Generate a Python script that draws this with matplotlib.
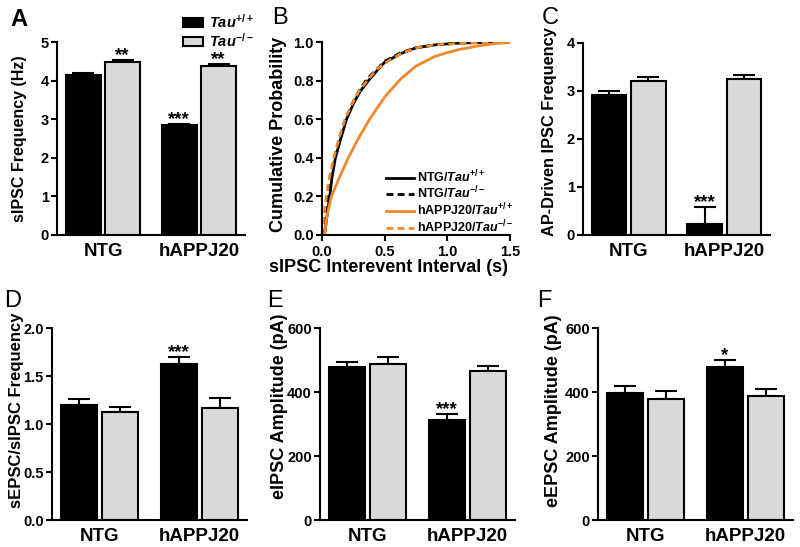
import matplotlib
matplotlib.use("Agg")
import matplotlib.pyplot as plt
from matplotlib.patches import Patch

plt.rcParams['font.family'] = ['Liberation Sans', 'DejaVu Sans']
plt.rcParams['font.weight'] = 'bold'
plt.rcParams['mathtext.fontset'] = 'custom'
plt.rcParams['mathtext.it'] = 'Liberation Sans:italic:bold'
plt.rcParams['mathtext.rm'] = 'Liberation Sans:bold'
plt.rcParams['mathtext.bf'] = 'Liberation Sans:bold'

# ---- data ----
groups = ["NTG", "hAPPJ20"]

# A: sIPSC frequency (Hz)
a_wt = [4.15, 2.84]
a_wt_err = [0.05, 0.04]
a_ko = [4.48, 4.37]
a_ko_err = [0.06, 0.07]
a_wt_star = ["", "***"]
a_ko_star = ["**", "**"]

# B: cumulative probability curves
b_ntg_wt_x = [0.02, 0.04, 0.062, 0.08, 0.107, 0.15, 0.196, 0.25, 0.30, 0.37, 0.45, 0.50, 0.63, 0.75, 0.90, 1.10, 1.30, 1.50]
b_ntg_wt_y = [0.0, 0.10, 0.20, 0.30, 0.40, 0.50, 0.60, 0.68, 0.74, 0.80, 0.86, 0.895, 0.94, 0.97, 0.985, 0.995, 0.998, 1.0]
b_ntg_ko_x = [0.01, 0.03, 0.05, 0.07, 0.10, 0.14, 0.19, 0.24, 0.30, 0.36, 0.44, 0.50, 0.63, 0.75, 0.90, 1.10, 1.30, 1.50]
b_ntg_ko_y = [0.0, 0.10, 0.20, 0.30, 0.40, 0.50, 0.60, 0.68, 0.75, 0.81, 0.86, 0.90, 0.945, 0.97, 0.985, 0.995, 0.998, 1.0]
b_app_wt_x = [0.02, 0.04, 0.075, 0.14, 0.21, 0.29, 0.38, 0.50, 0.63, 0.75, 0.90, 1.00, 1.10, 1.25, 1.40, 1.50]
b_app_wt_y = [0.0, 0.10, 0.20, 0.30, 0.40, 0.50, 0.60, 0.715, 0.81, 0.875, 0.925, 0.945, 0.962, 0.98, 0.993, 0.997]
b_app_ko_x = [0.0, 0.015, 0.035, 0.06, 0.094, 0.135, 0.183, 0.24, 0.29, 0.36, 0.44, 0.50, 0.63, 0.75, 0.90, 1.10, 1.30, 1.50]
b_app_ko_y = [0.0, 0.10, 0.20, 0.30, 0.40, 0.50, 0.60, 0.68, 0.74, 0.80, 0.86, 0.89, 0.94, 0.97, 0.985, 0.993, 0.997, 0.999]

# C: AP-driven IPSC frequency
c_wt = [2.92, 0.23]
c_wt_err = [0.08, 0.36]
c_ko = [3.21, 3.26]
c_ko_err = [0.08, 0.07]
c_wt_star = ["", "***"]
c_ko_star = ["", ""]

# D: sEPSC/sIPSC frequency
d_wt = [1.20, 1.62]
d_wt_err = [0.06, 0.08]
d_ko = [1.12, 1.17]
d_ko_err = [0.06, 0.10]
d_wt_star = ["", "***"]
d_ko_star = ["", ""]

# E: eIPSC amplitude (pA)
e_wt = [477, 311]
e_wt_err = [18, 20]
e_ko = [487, 467]
e_ko_err = [21, 15]
e_wt_star = ["", "***"]
e_ko_star = ["", ""]

# F: eEPSC amplitude (pA)
f_wt = [397, 478]
f_wt_err = [23, 23]
f_ko = [378, 388]
f_ko_err = [25, 20]
f_wt_star = ["", "*"]
f_ko_star = ["", ""]

black = "black"
grey = "#dadada"
orange = "#f0892e"

fig = plt.figure(figsize=(8, 5.47), dpi=100)


def px_axes(l, t, r, b):
    return fig.add_axes([l / 800, 1 - b / 547, (r - l) / 800, (b - t) / 547])


def style(ax):
    for s in ["top", "right"]:
        ax.spines[s].set_visible(False)
    for s in ["left", "bottom"]:
        ax.spines[s].set_linewidth(1.5)
    ax.tick_params(axis="y", direction="out", width=1.5, length=4, pad=2, labelsize=10.5)
    for lab in ax.get_yticklabels():
        lab.set_fontweight("bold")


def bar_panel(ax, wt, wt_err, ko, ko_err, wt_star, ko_star, ymax, ystep,
              ylabel, lab_size, fmt, lab_xy):
    w = 0.36
    off = 0.205
    xs = list(range(len(groups)))
    xw = [x - off for x in xs]
    xk = [x + off for x in xs]
    ax.bar(xw, wt, w, color=black, edgecolor=black, linewidth=1.5, zorder=2)
    ax.bar(xk, ko, w, color=grey, edgecolor=black, linewidth=1.5, zorder=2)
    ax.errorbar(xw, wt, yerr=[[0] * len(wt), wt_err], fmt="none", ecolor=black,
                elinewidth=1.5, capsize=8, capthick=1.5, zorder=1)
    ax.errorbar(xk, ko, yerr=[[0] * len(ko), ko_err], fmt="none", ecolor=black,
                elinewidth=1.5, capsize=8, capthick=1.5, zorder=1)
    for x, v, e, s in zip(xw + xk, wt + ko, wt_err + ko_err, wt_star + ko_star):
        if s:
            ax.annotate(s, (x, v + e), xytext=(0, 0), textcoords="offset points",
                        ha="center", va="baseline", fontsize=13.5, fontweight="bold")
    ax.set_xlim(-0.48, 1.48)
    ax.set_ylim(0, ymax)
    ticks = [i * ystep for i in range(int(round(ymax / ystep)) + 1)]
    ax.set_yticks(ticks)
    ax.set_yticklabels([fmt.format(t) for t in ticks])
    ax.set_xticks(xs)
    ax.set_xticklabels(groups, fontsize=13.5, fontweight="bold")
    ax.tick_params(axis="x", length=0, pad=6)
    ax.set_ylabel(ylabel, fontsize=lab_size, fontweight="bold")
    ax.yaxis.set_label_coords(*lab_xy)
    style(ax)


# Panel A
axA = px_axes(57, 42, 245, 235)
bar_panel(axA, a_wt, a_wt_err, a_ko, a_ko_err, a_wt_star, a_ko_star, 5, 1,
          "sIPSC Frequency (Hz)", 11.5, "{:.0f}", (-0.16, 0.5))
axA.legend(handles=[Patch(facecolor=black, edgecolor=black, linewidth=1.5),
                    Patch(facecolor=grey, edgecolor=black, linewidth=1.5)],
           labels=[r"$Tau^{+/+}$", r"$Tau^{-/-}$"], loc="upper left",
           bbox_to_anchor=(0.67, 1.15), frameon=False, fontsize=10.5,
           handlelength=1.4, handleheight=0.55, handletextpad=0.4, labelspacing=0.05,
           borderpad=0, borderaxespad=0)

# Panel B
axB = px_axes(322, 42, 510, 235)
axB.plot(b_ntg_wt_x, b_ntg_wt_y, color=black, lw=2, label=r"NTG/$Tau^{+/+}$")
axB.plot(b_ntg_ko_x, b_ntg_ko_y, color=black, lw=2, ls=(0, (2.5, 1.5)), label=r"NTG/$Tau^{-/-}$")
axB.plot(b_app_wt_x, b_app_wt_y, color=orange, lw=2, label=r"hAPPJ20/$Tau^{+/+}$")
axB.plot(b_app_ko_x, b_app_ko_y, color=orange, lw=2, ls=(0, (2.5, 1.5)), label=r"hAPPJ20/$Tau^{-/-}$")
axB.set_xlim(0, 1.5)
axB.set_ylim(0, 1.0)
axB.set_xticks([0, 0.5, 1.0, 1.5])
axB.set_xticklabels(["0.0", "0.5", "1.0", "1.5"], fontsize=10.5, fontweight="bold")
axB.set_yticks([0, 0.2, 0.4, 0.6, 0.8, 1.0])
axB.set_yticklabels(["0.0", "0.2", "0.4", "0.6", "0.8", "1.0"])
axB.tick_params(axis="x", direction="out", width=1.5, length=4)
axB.set_ylabel("Cumulative Probability", fontsize=13, fontweight="bold")
axB.yaxis.set_label_coords(-0.185, 0.52)
axB.set_xlabel("sIPSC Interevent Interval (s)", fontsize=13, fontweight="bold")
axB.xaxis.set_label_coords(0.356, -0.125)
style(axB)
axB.legend(loc="lower right", bbox_to_anchor=(1.02, 0.0), frameon=False, fontsize=9,
           handlelength=2.2, handletextpad=0.3, labelspacing=0.0, borderpad=0,
           borderaxespad=0)

# Panel C
axC = px_axes(583, 43, 770, 235)
bar_panel(axC, c_wt, c_wt_err, c_ko, c_ko_err, c_wt_star, c_ko_star, 4, 1,
          "AP-Driven IPSC Frequency", 11.8, "{:.0f}", (-0.14, 0.54))

# Panel D
axD = px_axes(52, 328, 247, 520)
bar_panel(axD, d_wt, d_wt_err, d_ko, d_ko_err, d_wt_star, d_ko_star, 2.0, 0.5,
          "sEPSC/sIPSC Frequency", 12, "{:.1f}", (-0.145, 0.57))

# Panel E
axE = px_axes(320, 328, 515, 520)
bar_panel(axE, e_wt, e_wt_err, e_ko, e_ko_err, e_wt_star, e_ko_star, 600, 200,
          "eIPSC Amplitude (pA)", 13, "{:.0f}", (-0.165, 0.59))

# Panel F
axF = px_axes(598, 328, 793, 520)
bar_panel(axF, f_wt, f_wt_err, f_ko, f_ko_err, f_wt_star, f_ko_star, 600, 200,
          "eEPSC Amplitude (pA)", 13, "{:.0f}", (-0.185, 0.57))

# Panel letters
letters = [("A", 10, 8, "bold"), ("B", 272, 7, "normal"), ("C", 542, 7, "normal"),
           ("D", 4, 290, "normal"), ("E", 267, 290, "normal"), ("F", 537, 290, "normal")]
for t, x, y, wgt in letters:
    fig.text(x / 800, 1 - y / 547, t, fontsize=17, fontweight=wgt, ha="left", va="top")

fig.savefig("out.png", dpi=100)
